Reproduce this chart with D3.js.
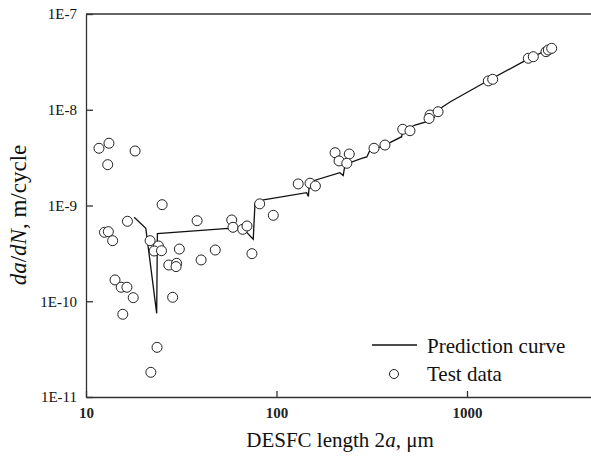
<!DOCTYPE html>
<html>
<head>
<meta charset="utf-8">
<script src="https://d3js.org/d3.v7.min.js"></script>
<style>
  body { margin: 0; background: #fff; }
  text { font-family: Liberation Serif, Times New Roman, Times, serif; }
</style>
</head>
<body>
<div id="chart"></div>
<script>
// test data: DESFC length 2a (um) vs da/dN (m/cycle)
const testLength = [11.7, 13.2, 13.0, 18.1, 12.5, 13.1, 13.8, 16.5, 25.1, 21.7,
                    24.0, 22.8, 24.9, 30.9, 27.2, 29.9, 29.7, 14.2, 15.3, 16.4,
                    17.7, 28.5, 15.6, 23.6, 21.9, 38.3, 40.2, 47.7, 58.2, 59.1,
                    66.5, 70.0, 74.3, 81.6, 96.2, 130, 150, 160, 203, 213,
                    241, 234, 325, 371, 460, 502, 640, 632, 705, 1294,
                    1364, 2098, 2229, 2598, 2672, 2784];
const testRate = [3.96e-9, 4.47e-9, 2.67e-9, 3.71e-9, 5.25e-10, 5.33e-10, 4.29e-10, 6.84e-10, 1.02e-9, 4.29e-10,
                  3.78e-10, 3.35e-10, 3.37e-10, 3.51e-10, 2.39e-10, 2.49e-10, 2.30e-10, 1.67e-10, 1.40e-10, 1.40e-10,
                  1.09e-10, 1.10e-10, 7.31e-11, 3.30e-11, 1.81e-11, 6.94e-10, 2.70e-10, 3.43e-10, 7.06e-10, 5.92e-10,
                  5.64e-10, 6.11e-10, 3.14e-10, 1.04e-9, 7.90e-10, 1.68e-9, 1.71e-9, 1.60e-9, 3.56e-9, 2.92e-9,
                  3.45e-9, 2.76e-9, 3.96e-9, 4.28e-9, 6.25e-9, 6.04e-9, 8.81e-9, 8.11e-9, 9.54e-9, 2.00e-8,
                  2.08e-8, 3.45e-8, 3.58e-8, 4.04e-8, 4.21e-8, 4.38e-8];

// prediction curve
const curveLength = [17.9, 20.6, 23.5, 23.7, 55.9, 68.3, 75.5, 77.1, 83.9, 144,
                     147, 149, 215, 224, 229, 280, 298, 308, 371, 454,
                     458, 533, 615, 632, 814, 1218, 1975, 2141, 2728, 2897];
const curveRate = [7.53e-10, 5.78e-10, 7.48e-11, 5.10e-10, 5.78e-10, 5.48e-10, 4.44e-10, 1.05e-9, 1.14e-9, 1.36e-9,
                   1.24e-9, 1.76e-9, 2.20e-9, 2.06e-9, 2.68e-9, 3.11e-9, 3.21e-9, 3.71e-9, 4.28e-9, 5.23e-9,
                   5.93e-9, 6.93e-9, 7.50e-9, 8.61e-9, 1.205e-8, 1.89e-8, 3.18e-8, 3.45e-8, 4.38e-8, 4.74e-8];

const xTicks = [10, 100, 1000];
const yTicks = [1e-11, 1e-10, 1e-9, 1e-8, 1e-7];
const yTickLabels = ["1E-11", "1E-10", "1E-9", "1E-8", "1E-7"];
const xMax = 4500;

const w = 591, h = 459;
const padLeft = 86, padTop = 14, padBottom = 397;
const decade = 190.5;
const serif = "Liberation Serif";

const svg = d3.select("#chart").append("svg")
  .attr("width", w).attr("height", h);

const x = d3.scaleLog().domain([10, xMax]).range([padLeft, padLeft + decade * Math.log10(xMax / 10)]);
const y = d3.scaleLog().domain([1e-11, 1e-7]).range([padBottom, padTop]);

// frame top line
svg.append("line")
  .attr("x1", padLeft).attr("x2", w)
  .attr("y1", padTop).attr("y2", padTop)
  .attr("stroke", "#333").attr("stroke-width", 1.3);

const xAxis = svg.append("g")
  .attr("transform", "translate(0," + padBottom + ")")
  .call(d3.axisBottom(x).tickValues(xTicks).tickFormat(d3.format("d"))
    .tickSizeInner(-6).tickSizeOuter(0).tickPadding(10));
xAxis.attr("font-family", null);
xAxis.selectAll("text").style("font-size", "15px").style("font-weight", "bold").attr("fill", "#222");

const yAxis = svg.append("g")
  .attr("transform", "translate(" + padLeft + ",0)")
  .call(d3.axisLeft(y).tickValues(yTicks).tickFormat((d, i) => yTickLabels[i])
    .tickSizeInner(-7).tickSizeOuter(0).tickPadding(9));
yAxis.attr("font-family", null);
yAxis.selectAll("text").style("font-size", "15px").attr("fill", "#111");

svg.selectAll(".domain, .tick line").attr("stroke", "#333").attr("stroke-width", 1.3);

// prediction curve
const line = d3.line().x(d => x(d[0])).y(d => y(d[1]));
svg.append("path")
  .datum(curveLength.map((v, i) => [v, curveRate[i]]))
  .attr("d", line)
  .attr("fill", "none")
  .attr("stroke", "#111")
  .attr("stroke-width", 1.3);

// test data
svg.selectAll("circle.dot")
  .data(testLength.map((v, i) => [v, testRate[i]]))
  .enter()
  .append("circle")
  .attr("class", "dot")
  .attr("cx", d => x(d[0]))
  .attr("cy", d => y(d[1]))
  .attr("r", 5)
  .attr("fill", "#fff")
  .attr("stroke", "#222")
  .attr("stroke-width", 1);

// legend
svg.append("line")
  .attr("x1", 372).attr("x2", 417).attr("y1", 345).attr("y2", 345)
  .attr("stroke", "#111").attr("stroke-width", 1.3);
svg.append("text").attr("x", 427).attr("y", 353)
  .style("font-size", "21px").attr("fill", "#111").text("Prediction curve");
svg.append("circle")
  .attr("cx", 394).attr("cy", 374).attr("r", 4.5)
  .attr("fill", "#fff").attr("stroke", "#222").attr("stroke-width", 1);
svg.append("text").attr("x", 427).attr("y", 381)
  .style("font-size", "21px").attr("fill", "#111").text("Test data");

// axis titles
const xt = svg.append("text")
  .attr("x", 340).attr("y", 447)
  .attr("text-anchor", "middle")
  .attr("fill", "#111")
  .style("font-size", "21px");
xt.append("tspan").text("DESFC length 2");
xt.append("tspan").style("font-style", "italic").text("a");
xt.append("tspan").text(", \u03bcm");

const yt = svg.append("text")
  .attr("transform", "translate(26,215) rotate(-90)")
  .attr("text-anchor", "middle")
  .attr("fill", "#111")
  .style("font-size", "23px");
yt.append("tspan").style("font-style", "italic").text("da");
yt.append("tspan").text("/");
yt.append("tspan").style("font-style", "italic").text("dN");
yt.append("tspan").text(", m/cycle");

svg.selectAll("text").attr("font-family", serif);
</script>
</body>
</html>
